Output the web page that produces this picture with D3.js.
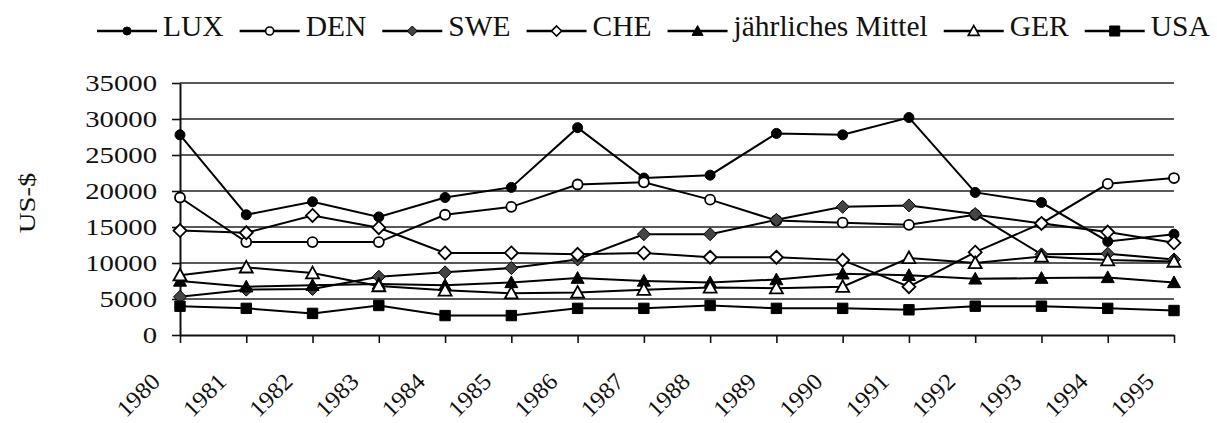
<!DOCTYPE html>
<html><head><meta charset="utf-8">
<script src="https://cdn.jsdelivr.net/npm/d3@7"></script>
<style>
html,body{margin:0;padding:0;background:#fff;}
text{font-family:"Liberation Serif","Times New Roman",serif;fill:#111;}
</style></head>
<body>
<script>
const years = ["1980","1981","1982","1983","1984","1985","1986","1987","1988","1989","1990","1991","1992","1993","1994","1995"];
const yTicks = [0,5000,10000,15000,20000,25000,30000,35000];
const seriesNames = ["LUX","DEN","SWE","CHE","jährliches Mittel","GER","USA"];
const LUX  = [27800,16700,18500,16400,19100,20500,28800,21800,22200,28000,27800,30200,19800,18400,13000,14000];
const DEN  = [19100,12900,12900,12900,16700,17800,20900,21200,18800,15900,15600,15300,16700,15500,21000,21800];
const SWE  = [5300,6300,6400,8100,8700,9300,10500,14000,14000,16000,17800,18000,16800,11200,11300,10500];
const CHE  = [14500,14200,16600,14900,11400,11400,11200,11400,10800,10800,10400,6700,11500,15500,14300,12800];
const MEAN = [7500,6700,6900,7100,6900,7300,7900,7500,7300,7700,8500,8300,7800,7900,8000,7300];
const GER  = [8300,9400,8600,6800,6200,5800,5900,6300,6600,6500,6700,10700,10000,10900,10400,10200];
const USA  = [4000,3700,3000,4100,2700,2700,3700,3700,4100,3700,3700,3500,4000,4000,3700,3400];
const seriesValues = [LUX,DEN,SWE,CHE,MEAN,GER,USA];

// marker styles
const markerKinds = ["circle","circle","diamond","diamond","triangle","triangle","square"];
const markerFill  = ["#000","#fff","#444","#fff","#000","#fff","#000"];

function markerPath(kind, s){
  if(kind==="circle"){ return `M${-s},0A${s},${s} 0 1,0 ${s},0A${s},${s} 0 1,0 ${-s},0Z`; }
  if(kind==="diamond"){ return `M0,${-s}L${s},0L0,${s}L${-s},0Z`; }
  if(kind==="triangle"){ return `M0,${-s}L${s},${s*0.8}L${-s},${s*0.8}Z`; }
  return `M${-s},${-s}L${s},${-s}L${s},${s}L${-s},${s}Z`;
}
const markerSize = {circle:5, diamond:6.5, triangle:6.5, square:5.2};
const legendSize = {circle:4, diamond:5, triangle:5.5, square:5};

const W=1217,H=423;
const svg = d3.select("body").append("svg").attr("width",W).attr("height",H);
const x = d3.scalePoint().domain(years).range([180,1174]);
const y = d3.scaleLinear().domain([0,35000]).range([335,83]);

// gridlines
svg.append("g").selectAll("line").data(yTicks.filter(d=>d>0)).join("line")
  .attr("x1",180).attr("x2",1174).attr("y1",d=>y(d)).attr("y2",d=>y(d))
  .attr("stroke","#222").attr("stroke-width",1.6);

// y axis
const ya = svg.append("g").attr("transform","translate(180,0)")
  .call(d3.axisLeft(y).tickValues(yTicks).tickSize(8).tickSizeOuter(0).tickFormat(d=>String(d)));
ya.select(".domain").attr("stroke","#111").attr("stroke-width",2);
ya.selectAll(".tick line").attr("stroke","#111").attr("stroke-width",1.6);
ya.selectAll(".tick text").attr("x",null).attr("dy",null)
  .attr("transform","translate(-23,7) scale(1.25,1)")
  .attr("text-anchor","end").style("font-size","23px").attr("fill","#111");

// x axis
const xa = svg.append("g").attr("transform","translate(0,335)")
  .call(d3.axisBottom(x).tickSize(8).tickSizeOuter(0));
xa.select(".domain").attr("stroke","#111").attr("stroke-width",2);
xa.selectAll(".tick line").attr("stroke","#111").attr("stroke-width",1.6);
xa.selectAll(".tick text").attr("y",null).attr("dy",null)
  .attr("transform","translate(-19,48) rotate(-45) scale(1.06,1)")
  .attr("text-anchor","end").style("font-size","23.5px").attr("fill","#111");

// y title
svg.append("text").attr("transform","translate(35,203) rotate(-90) scale(1.25,1)")
  .attr("text-anchor","middle").style("font-size","23px").text("US-$");

// series
const line = d3.line().x((d,i)=>x(years[i])).y(d=>y(d));
seriesValues.forEach((vals,si)=>{
  const g = svg.append("g");
  g.append("path").datum(vals).attr("d",line).attr("fill","none")
    .attr("stroke","#000").attr("stroke-width",2);
  const k = markerKinds[si];
  g.selectAll("path.m").data(vals).join("path").attr("class","m")
    .attr("d",markerPath(k,markerSize[k]))
    .attr("transform",(d,i)=>`translate(${x(years[i])},${y(d)})`)
    .attr("fill",markerFill[si]).attr("stroke","#000")
    .attr("stroke-width",markerFill[si]==="#fff"?1.8:1);
});

// legend
const lg = svg.append("g");
let cx = 97;
seriesNames.forEach((name,si)=>{
  const k = markerKinds[si];
  lg.append("line").attr("x1",cx).attr("x2",cx+60).attr("y1",31).attr("y2",31)
    .attr("stroke","#000").attr("stroke-width",2.4);
  lg.append("path").attr("d",markerPath(k,legendSize[k]))
    .attr("transform",`translate(${cx+30},31)`)
    .attr("fill",markerFill[si]).attr("stroke","#000")
    .attr("stroke-width",markerFill[si]==="#fff"?1.6:1);
  const t = lg.append("text").attr("x",cx+66).attr("y",36).style("font-size","29.5px").text(name);
  const w = t.node().getComputedTextLength();
  cx = cx+66+w+16;
});
</script>
</body></html>
